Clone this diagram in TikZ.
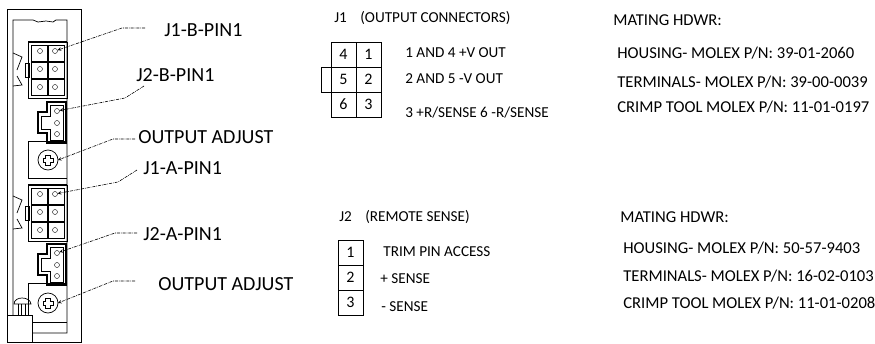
\documentclass[tikz,border=0pt]{standalone}
\usepackage{fontspec}
\setmainfont{Carlito}
\usetikzlibrary{arrows.meta}
\tikzset{
  pin/.style={draw,circle,inner sep=0pt,minimum size=5pt,thin},
  lbl/.style={anchor=west,inner sep=0pt,font=\fontsize{20}{20}\selectfont},
  txt/.style={anchor=west,inner sep=0pt,font=\fontsize{15.2}{16}\selectfont},
  hwr/.style={anchor=west,inner sep=0pt,font=\fontsize{16.6}{17}\selectfont},
  cell/.style={draw,inner sep=0pt,minimum size=25pt,font=\fontsize{16}{16}\selectfont},
  lead/.style={->,densely dashdotted,line width=.6pt},
}
\begin{document}
\begin{tikzpicture}[x=1pt,y=-1pt,>=stealth,line width=.7pt]
        \useasboundingbox (0,0) rectangle (875,343);
        % case
        \draw[line width=1pt](7,342)--(7,9)--(81,9)--(81,342)--cycle;
        \draw(13,315)--(13,20)--(33,20)--(38,22)--(46,21)--(53,22)--(56,20)--(67,20)--(67,333)--(32,333);
        \draw[line width=1pt](7,315)--(32,315)--(32,342);
        \draw(32,322)--(67,322);
        % six way connectors
        \foreach \n/\yo in {b/0,a/143}{
          \begin{scope}[yshift=-\yo pt]
          \draw(28.5,42)--(67,42)--(67,98)--(28.5,98)--cycle;
          \draw[line width=1.3pt](28.5,98)--(28.5,42)--(67,42);
          \foreach \x in {31,48}
            \foreach \y in {45,62,79}
              \draw(\x,\y) rectangle +(16.5,16);
          \foreach \i/\x/\y in {1/55/51,2/55/69,3/55/87,4/40/51,5/40/69,6/40/87}
            \node[pin] (j1\n\i) at (\x,\y) {};
          \draw(13,53)--(22,57)--(17,70);
          \draw(17,76)--(22,85)--(13,86);
          \draw(25,63) rectangle (29,77);
          \end{scope}
        }
        % three way connectors
        \foreach \n/\yo in {b/0,a/142}{
          \begin{scope}[yshift=-\yo pt]
          \draw[line width=1.2pt](47,102)--(66,102)--(66,143)--(47,143)--(47,133)--(38,133)--(38,112)--(47,112)--cycle;
          \draw(50,105)--(63,105)--(63,140)--(50,140)--(50,129)--(41,129)--(41,116)--(50,116)--cycle;
          \foreach \i/\y in {1/111,2/123,3/134}
            \node[pin] (j2\n\i) at (57,\y) {};
          \end{scope}
        }
        % adjust pots
        \draw(67,178)--(28,178)--(28,141)--(67,141);
        \draw(67,283)--(28,283)--(28,315);
        \foreach \n/\y in {b/160,a/303}{
          \draw(48,\y) circle (10);
          \draw[line width=.8pt](45.5,\y-5)--(50.5,\y-5)--(50.5,\y-2)--(53,\y-2)--(53,\y+2)--(50.5,\y+2)--(50.5,\y+5)--(45.5,\y+5)--(45.5,\y+2)--(43,\y+2)--(43,\y-2)--(45.5,\y-2)--cycle;
          \coordinate (adj\n) at (58,\y);
        }
        % knob
        \draw(14,304) .. controls (14,296) and (30,296) .. (31,304)--cycle;
        \foreach \x in {18,21,25,28}
          \draw(\x,304)--(\x,315);
        % leaders
        \coordinate (s1) at (145,28);
        \coordinate (s2) at (144,86);
        \coordinate (s3) at (135,139);
        \coordinate (s4) at (137,170);
        \coordinate (s5) at (137,233);
        \coordinate (s6) at (135,281);
        \draw[lead](s1)--(122,28)--(j1b1);
        \draw[lead](s2)--(125,98)--(j2b1);
        \draw[lead](s3)--(113,139)--(adjb);
        \draw[lead](s4)--(118,182)--(j1a1);
        \draw[lead](s5)--(115,233)--(j2a1);
        \draw[lead](s6)--(113,281)--(adja);
        % callouts
        \node[lbl] (l1) at (164,30) {J1-B-PIN1};
        \node[lbl] (l2) at (136,75) {J2-B-PIN1};
        \node[lbl] (l3) at (138,137) {OUTPUT ADJUST};
        \node[lbl] (l4) at (143,168) {J1-A-PIN1};
        \node[lbl] (l5) at (143,234) {J2-A-PIN1};
        \node[lbl] (l6) at (158,284) {OUTPUT ADJUST};
        % J1 pinout
        \node[txt] (t1) at (334,18) {J1};
        \node[txt] (t2) at (360,18) {(OUTPUT CONNECTORS)};
        \draw(331,67)--(321,67)--(321,92)--(331,92);
        \foreach \v/\x/\y in {4/343.5/54.5,1/368.5/54.5,5/343.5/79.5,2/368.5/79.5,6/343.5/104.5,3/368.5/104.5}
          \node[cell] (a\v) at (\x,\y) {\v};
        \node[txt] (t3) at (405,53) {1 AND 4 +V OUT};
        \node[txt] (t4) at (405,79) {2 AND 5 -V OUT};
        \node[txt] (t5) at (405,113) {3 +R/SENSE 6 -R/SENSE};
        \node[hwr] (t6) at (613,20) {MATING HDWR:};
        \node[hwr] (t7) at (617,53) {HOUSING- MOLEX P/N: 39-01-2060};
        \node[hwr] (t8) at (617,82) {TERMINALS- MOLEX P/N: 39-00-0039};
        \node[hwr] (t9) at (617,107) {CRIMP TOOL MOLEX P/N: 11-01-0197};
        % J2 pinout
        \node[txt] (u1) at (339,217) {J2};
        \node[txt] (u2) at (365,217) {(REMOTE SENSE)};
        \foreach \v/\y in {1/252.5,2/277.5,3/302.5}
          \node[cell] (c\v) at (350.5,\y) {\v};
        \node[txt] (u3) at (383,252) {TRIM PIN ACCESS};
        \node[txt] (u4) at (380,279) {+ SENSE};
        \node[txt] (u5) at (381,307) {- SENSE};
        \node[hwr] (u6) at (620,217) {MATING HDWR:};
        \node[hwr] (u7) at (623,248) {HOUSING- MOLEX P/N: 50-57-9403};
        \node[hwr] (u8) at (623,276) {TERMINALS- MOLEX P/N: 16-02-0103};
        \node[hwr] (u9) at (623,303) {CRIMP TOOL MOLEX P/N: 11-01-0208};
\end{tikzpicture}
\end{document}
